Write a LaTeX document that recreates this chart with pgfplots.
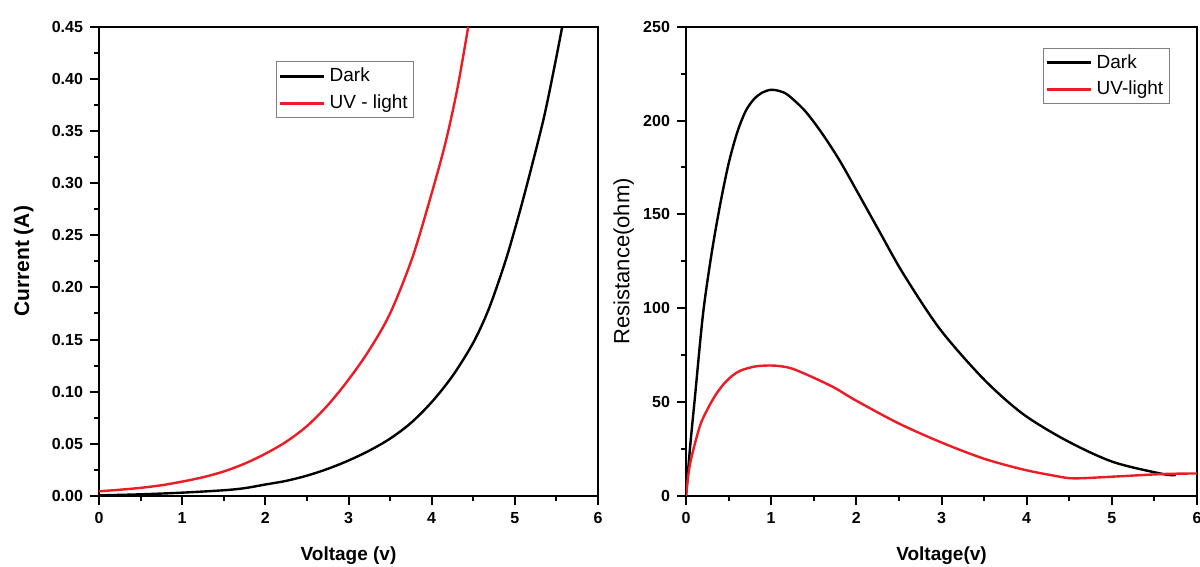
\documentclass[border=0pt]{standalone}
\usepackage{pgfplots}
\pgfplotsset{compat=1.18}
\usepackage{fontspec}
\setmainfont{Liberation Sans}
\definecolor{uvred}{RGB}{237,28,36}

\pgfplotsset{
  panel/.style={
    scale only axis, anchor=south west,
    xmin=0, xmax=6, xtick={0,...,6}, minor x tick num=1, minor y tick num=1,
    tick align=outside, tick pos=left,
    major tick length=4.5pt, minor tick length=2.5pt,
    axis line style={line width=1.1pt},
    every tick/.style={line width=1pt, black},
    tick label style={font=\fontsize{8}{9.5}\selectfont\bfseries},
    /pgf/number format/assume math mode=true,
    xlabel style={font=\fontsize{9.5}{11}\selectfont\bfseries,
      at={(axis description cs:0.5,-0.128)}, anchor=center},
    legend cell align=left,
    legend style={draw=gray, line width=0.5pt, anchor=north west,
      font=\fontsize{9.5}{11}\selectfont, inner sep=1pt, row sep=1pt},
    legend image code/.code={\draw[##1, line width=1.5pt] (0pt,0pt) -- (22pt,0pt);},
  },
}

% left panel: current vs voltage
\pgfplotstableread{
v     i
0     0.0006
0.5   0.0016
1.0   0.0032
1.5   0.0055
1.75  0.0075
2.0   0.011
2.25  0.0145
2.5   0.0195
2.75  0.026
3.0   0.034
3.25  0.0435
3.5   0.055
3.75  0.070
4.0   0.090
4.25  0.115
4.5   0.147
4.69  0.180
4.89  0.226
5.05  0.270
5.19  0.312
5.35  0.363
5.47  0.409
5.57  0.450
}\darkI
\pgfplotstableread{
v     i
0     0.0045
0.25  0.0060
0.5   0.0078
0.75  0.0103
1.0   0.0138
1.25  0.0180
1.5   0.0235
1.75  0.031
2.0   0.0405
2.25  0.052
2.5   0.067
2.75  0.087
3.0   0.1115
3.25  0.140
3.5   0.175
3.77  0.229
4.01  0.293
4.17  0.340
4.31  0.391
4.44  0.450
}\uvI

% right panel: resistance vs voltage
\pgfplotstableread{
v     r
0     0
0.05  27
0.105 52.7
0.2   97
0.3   129
0.4   155
0.5   177
0.6   193.5
0.7   205
0.8   211.5
0.9   215
1.0   216.4
1.1   215.7
1.2   213.5
1.4   205
1.6   193
1.8   179
2.0   163
2.27  141
2.55  118.5
2.98  89
3.49  62.5
3.95  43.9
4.46  29.7
5.01  18.2
5.6   11.7
5.75  11.2
}\darkR
\pgfplotstableread{
v     r
0     0
0.047 17
0.16  36.8
0.25  46
0.35  54
0.45  60
0.55  64.3
0.65  67
0.8   68.9
0.9   69.4
1.0   69.5
1.1   69.2
1.25  67.8
1.5   63
1.75  57.5
1.99  51
2.5   38.6
3.0   28.5
3.49  20
3.95  14.2
4.3   11
4.55  9.4
5.01  10.3
5.6   11.7
6.0   12
}\uvR

\begin{document}
\begin{tikzpicture}
\begin{axis}[panel,
    at={(49.5pt,35.5pt)}, width=249.5pt, height=234.65pt,
    ymin=0, ymax=0.45, ytick={0,0.05,...,0.451},
    yticklabel style={/pgf/number format/.cd, fixed, fixed zerofill, precision=2},
    xlabel={Voltage (v)},
    ylabel={Current (A)},
    ylabel style={font=\fontsize{10.5}{12}\selectfont\bfseries,
      at={(axis description cs:-0.151,0.5)}, anchor=center},
    legend style={at={(axis description cs:0.355,0.926)}, anchor=north west},
  ]
  \addplot[black, line width=1.2pt, smooth] table[x=v, y=i] {\darkI};
  \addlegendentry{Dark}
  \addplot[uvred, line width=1.2pt, smooth] table[x=v, y=i] {\uvI};
  \addlegendentry{UV - light}
\end{axis}
\begin{axis}[panel,
    at={(343pt,35.5pt)}, width=255.5pt, height=234.65pt,
    ymin=0, ymax=250, ytick={0,50,...,250},
    xlabel={Voltage(v)},
    ylabel={Resistance(ohm)},
    ylabel style={font=\fontsize{11}{13}\selectfont,
      at={(axis description cs:-0.122,0.5)}, anchor=center},
    legend style={at={(axis description cs:0.699,0.955)}, anchor=north west},
  ]
  \addplot[black, line width=1.2pt, smooth] table[x=v, y=r] {\darkR};
  \addlegendentry{Dark}
  \addplot[uvred, line width=1.2pt, smooth] table[x=v, y=r] {\uvR};
  \addlegendentry{UV-light}
\end{axis}
\pgfresetboundingbox
\path (0pt,0pt) rectangle (600pt,283.5pt);
\end{tikzpicture}
\end{document}
